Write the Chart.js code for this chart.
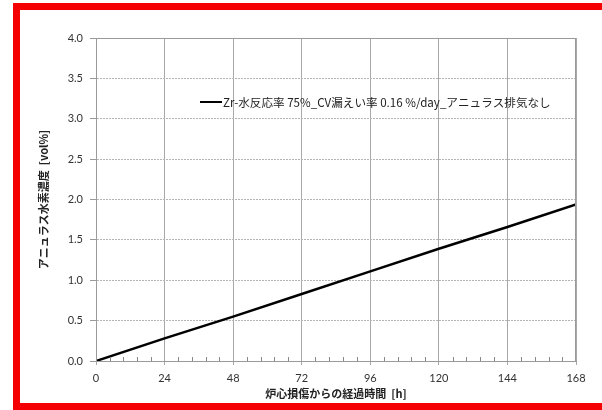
<!DOCTYPE html>
<html>
<head>
<meta charset="utf-8">
<script src="https://cdn.jsdelivr.net/npm/chart.js@4.4.1/dist/chart.umd.min.js"></script>
<style>
  html, body { margin: 0; padding: 0; background: #fff; overflow: hidden; }
  #wrap { position: relative; width: 602px; height: 410px; }
  #frame {
    position: absolute; left: 13px; top: 3px; width: 620px; height: 393px;
    border: 7px solid #f40000; pointer-events: none;
  }
</style>
</head>
<body>
<div id="wrap">
  <canvas id="chart" width="602" height="410"></canvas>
  <div id="frame"></div>
</div>
<script>
// data
const hours = [0, 24, 48, 72, 96, 120, 144, 168]
const concentration = [0, 0.28, 0.55, 0.83, 1.11, 1.39, 1.66, 1.94]
const seriesLabel = 'Zr-水反応率 75%_CV漏えい率 0.16 %/day_アニュラス排気なし'
const xTitle = '炉心損傷からの経過時間  [h]'
const yTitle = 'アニュラス水素濃度  [vol%]'

const jpFont = '"Noto Sans CJK JP", sans-serif'
const numFont = 'Lato, "Liberation Sans", sans-serif'

// frame around the plot area, minor ticks on x axis, legend inside plot
const plotExtras = {
    id: 'plotExtras',
    afterDatasetsDraw(chart) {
        const { ctx, chartArea: a, scales } = chart
        ctx.save()
        ctx.strokeStyle = '#9a9a9a'
        ctx.lineWidth = 1
        ctx.strokeRect(a.left + 0.5, a.top + 0.5, a.right - a.left - 1, a.bottom - a.top)

        // minor ticks every 4.8 h
        ctx.strokeStyle = '#888'
        for (let h = 0; h < 168; h += 24) {
            for (let k = 1; k < 5; k++) {
                const px = Math.round(scales.x.getPixelForValue(h + k * 4.8)) + 0.5
                ctx.beginPath()
                ctx.moveTo(px, a.bottom)
                ctx.lineTo(px, a.bottom - 4)
                ctx.stroke()
            }
        }

        // legend
        const ds = chart.data.datasets[0]
        const lx = a.left + 104, ly = a.top + 64
        ctx.strokeStyle = '#000'
        ctx.lineWidth = 2
        ctx.beginPath()
        ctx.moveTo(lx, ly)
        ctx.lineTo(lx + 22, ly)
        ctx.stroke()
        ctx.font = '11.6px ' + jpFont
        ctx.fillStyle = '#222'
        ctx.textBaseline = 'middle'
        ctx.fillText(ds.label, lx + 23, ly + 1)
        ctx.restore()
    },
}

new Chart(document.getElementById('chart').getContext('2d'), {
    type: 'line',
    data: {
        datasets: [
            {
                label: seriesLabel,
                data: hours.map((h, i) => ({ x: h, y: concentration[i] })),
                borderColor: '#000',
                borderWidth: 2.5,
                pointRadius: 0,
                fill: false,
                tension: 0,
            },
        ],
    },
    options: {
        responsive: false,
        animation: false,
        layout: { padding: { left: 37, top: 38, right: 26, bottom: 10 } },
        plugins: {
            legend: { display: false },
            tooltip: { enabled: false },
        },
        scales: {
            x: {
                type: 'linear',
                min: 0,
                max: 168,
                ticks: {
                    stepSize: 24,
                    color: '#333',
                    font: { family: numFont, size: 11 },
                    padding: 7,
                },
                grid: { color: '#a8a8a8', tickLength: 4, tickColor: '#a8a8a8' },
                border: { color: '#9a9a9a' },
                title: {
                    display: true,
                    text: xTitle,
                    color: '#222',
                    font: { family: jpFont, size: 11, weight: 'bold' },
                    padding: { top: 1, bottom: 0 },
                },
                afterFit(scale) { scale.height = 39 },
            },
            y: {
                min: 0,
                max: 4,
                ticks: {
                    stepSize: 0.5,
                    color: '#333',
                    font: { family: numFont, size: 11 },
                    padding: 7,
                    callback: v => v.toFixed(1),
                },
                grid: { color: '#b4b4b4', tickLength: 6, tickColor: '#9a9a9a' },
                border: { color: '#9a9a9a', dash: [2, 1] },
                title: {
                    display: true,
                    text: yTitle,
                    color: '#222',
                    font: { family: jpFont, size: 11, weight: 'bold' },
                    padding: { top: 0, bottom: 12 },
                },
                afterFit(scale) { scale.width = 59 },
            },
        },
    },
    plugins: [plotExtras],
})
</script>
</body>
</html>
